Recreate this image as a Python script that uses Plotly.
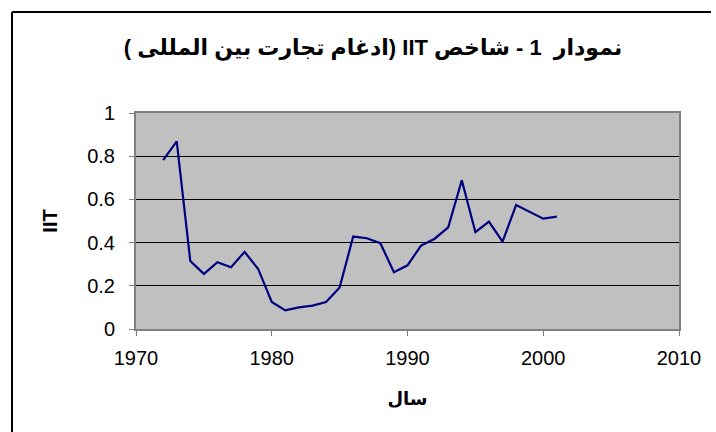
import plotly.graph_objects as go

years = list(range(1972, 2002))
iit = [0.782, 0.869, 0.315, 0.255, 0.309, 0.286, 0.357, 0.278, 0.125, 0.086,
       0.100, 0.108, 0.125, 0.192, 0.428, 0.420, 0.397, 0.263, 0.295, 0.386,
       0.418, 0.471, 0.689, 0.449, 0.497, 0.404, 0.574, 0.543, 0.511, 0.520]

title_text = "نمودار  1 - شاخص IIT (ادغام تجارت بين المللى )"
x_title = "سال"
y_title = "IIT"

FONT = "Arial, 'Liberation Sans', 'DejaVu Sans', sans-serif"

fig = go.Figure()
fig.add_trace(go.Scatter(x=years, y=iit, mode="lines",
                         line=dict(color="#000080", width=2.2), showlegend=False))

W, H = 716, 432
ml, mr, mt, mb = 136, 37, 113, 103
pw, ph = W - ml - mr, H - mt - mb

def px2x(p):
    return (p - ml) / pw

def px2y(p):
    return (H - mb - p) / ph

fig.update_layout(
    width=W, height=H,
    margin=dict(l=ml, r=mr, t=mt, b=mb, pad=0),
    paper_bgcolor="white",
    plot_bgcolor="#C0C0C0",
    font=dict(family=FONT, size=20, color="black"),
    title=dict(text="<b>\u202B" + title_text + "\u202C</b>",
               x=px2x(373), xref="paper", xanchor="center",
               y=1 - 47 / H, yanchor="middle",
               font=dict(size=22, family=FONT, color="black")),
    xaxis=dict(range=[1970, 2010], dtick=10, tick0=1970,
               showgrid=False, zeroline=False,
               showline=True, linecolor="#808080", linewidth=2, mirror=True,
               ticks="outside", ticklen=5, tickcolor="#808080", tickwidth=1,
               ticklabelstandoff=5,
               tickfont=dict(size=20),
               title=dict(text="<b>" + x_title + "</b>", font=dict(size=18), standoff=24)),
    yaxis=dict(range=[0, 1], dtick=0.2, tick0=0,
               showgrid=True, gridcolor="black", gridwidth=1,
               zeroline=False,
               showline=True, linecolor="#808080", linewidth=2, mirror=True,
               ticks="outside", ticklen=5, tickcolor="#808080", tickwidth=1,
               ticklabelstandoff=10,
               tickfont=dict(size=20),
               title=dict(text="<b>" + y_title + "</b>", font=dict(size=20), standoff=24)),
)

# outer chart border
fig.add_shape(type="line", xref="paper", yref="paper",
              x0=px2x(12), x1=px2x(711), y0=px2y(12), y1=px2y(12),
              line=dict(color="black", width=2))
fig.add_shape(type="line", xref="paper", yref="paper",
              x0=px2x(12), x1=px2x(12), y0=px2y(12), y1=px2y(440),
              line=dict(color="black", width=2))

fig.write_html("out.html", config={"displayModeBar": False},
               post_script="document.body.style.margin='0';document.body.style.overflow='hidden';")
